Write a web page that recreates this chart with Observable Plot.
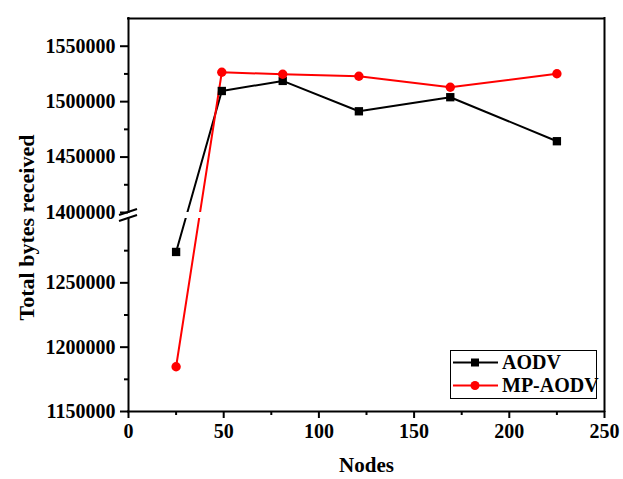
<!DOCTYPE html>
<html><head><meta charset="utf-8">
<script src="https://cdn.jsdelivr.net/npm/d3@7"></script>
<script src="https://cdn.jsdelivr.net/npm/@observablehq/plot@0.6"></script>
<style>html,body{margin:0;padding:0;background:#fff;}</style>
</head><body><div id="chart"></div>
<script>
const nodes = [25, 49, 81, 121, 169, 225];
const aodv = [1274000, 1509600, 1518700, 1491300, 1504000, 1464300];
const mpAodv = [1184800, 1526500, 1524700, 1522900, 1513000, 1525200];
const seriesNames = ["AODV", "MP-AODV"];
const seriesColors = ["#000000", "#ff0000"];
const seriesSymbols = ["square", "circle"];
const xTicks = [0, 50, 100, 150, 200, 250];
const xMinorTicks = [25, 75, 125, 175, 225];
const yTicks = [1150000, 1200000, 1250000, 1400000, 1450000, 1500000, 1550000];
const yMinorTicks = [1175000, 1225000, 1275000, 1425000, 1475000, 1525000];
const yBreak = [1300000, 1400000];
const yDomain = [1150000, 1575000];
const xDomain = [0, 250];

const rows = [];
[aodv, mpAodv].forEach((vals, i) => nodes.forEach((n, j) => rows.push({series: seriesNames[i], nodes: n, value: vals[j]})));

const W = 623, H = 479, mL = 128, mR = 19, mT = 18, mB = 68;
const FONT = "'Liberation Serif','Times New Roman',serif";

function breakMark(index, scales) {
  const g = d3.create("svg:g");
  const x0 = scales.x(xDomain[0]);
  [scales.y(yBreak[1]), scales.y(yBreak[0])].forEach(y => {
    g.append("line").attr("x1", x0 - 9).attr("y1", y + 3).attr("x2", x0 + 9).attr("y2", y - 3)
      .attr("stroke", "#000").attr("stroke-width", 2);
  });
  return g.node();
}

function legendMark(index, scales, values, dims) {
  const g = d3.create("svg:g");
  const right = dims.width - dims.marginRight, bottom = dims.height - dims.marginBottom;
  const bx = right - 154, by = bottom - 61, bw = 146, bh = 48;
  g.append("rect").attr("x", bx + 0.5).attr("y", by + 0.5).attr("width", bw).attr("height", bh)
    .attr("fill", "#fff").attr("stroke", "#000").attr("stroke-width", 1);
  seriesNames.forEach((name, i) => {
    const cy = by + 12.5 + i * 23;
    g.append("line").attr("x1", bx + 3).attr("x2", bx + 48).attr("y1", cy).attr("y2", cy)
      .attr("stroke", seriesColors[i]).attr("stroke-width", 2);
    const sym = seriesSymbols[i] === "square" ? d3.symbolSquare : d3.symbolCircle;
    g.append("path").attr("d", d3.symbol(sym, 64)()).attr("transform", `translate(${bx + 25},${cy})`)
      .attr("fill", seriesColors[i]);
    g.append("text").attr("x", bx + 52).attr("y", cy).attr("dy", "0.33em")
      .attr("text-anchor", "start")
      .attr("font-family", FONT).attr("font-weight", "bold").attr("font-size", 20)
      .attr("fill", "#000").text(name);
  });
  return g.node();
}

const chart = Plot.plot({
  width: W, height: H,
  marginLeft: mL, marginRight: mR, marginTop: mT, marginBottom: mB,
  style: {fontFamily: FONT, fontWeight: "bold", fontSize: "20px", color: "#000", background: "#fff", overflow: "visible"},
  x: {domain: xDomain, label: null},
  y: {type: "linear", domain: [yDomain[0], yBreak[0], yBreak[1], yDomain[1]], range: [H - mB, 218, 212, mT], label: null},
  color: {domain: seriesNames, range: seriesColors},
  symbol: {domain: seriesNames, range: seriesSymbols},
  marks: [
    Plot.line(rows, {x: "nodes", y: "value", z: "series", stroke: "series", strokeWidth: 2}),
    Plot.rect([{lo: yBreak[0], hi: yBreak[1]}], {x1: xDomain[0], x2: xDomain[1], y1: "lo", y2: "hi", fill: "#fff"}),
    Plot.dot(rows, {x: "nodes", y: "value", fill: "series", symbol: "series", r: 4.7, stroke: null}),
    Plot.ruleY([yDomain[0], yDomain[1]], {stroke: "#000", strokeWidth: 2, strokeLinecap: "square"}),
    Plot.ruleX([xDomain[1]], {stroke: "#000", strokeWidth: 2, strokeLinecap: "square"}),
    Plot.ruleX([{lo: yDomain[0], hi: yBreak[0]}, {lo: yBreak[1], hi: yDomain[1]}], {x: xDomain[0], y1: "lo", y2: "hi", stroke: "#000", strokeWidth: 2, strokeLinecap: "square"}),
    Plot.axisX({ticks: xTicks, tickSize: 7, tickPadding: 5, strokeWidth: 2, label: null, anchor: "bottom", fontSize: 20}),
    Plot.axisX({ticks: xMinorTicks, tickSize: 4, strokeWidth: 2, tickFormat: () => "", label: null, anchor: "bottom"}),
    Plot.axisY({ticks: yTicks, tickSize: 8, tickPadding: 5, strokeWidth: 2, tickFormat: d3.format("d"), label: null, anchor: "left", fontSize: 20}),
    Plot.axisY({ticks: yMinorTicks, tickSize: 4, strokeWidth: 2, tickFormat: () => "", label: null, anchor: "left"}),
    breakMark,
    Plot.text(["Nodes"], {text: d => d, frameAnchor: "bottom", textAnchor: "middle", dy: 60, fontSize: 21, fontWeight: "bold"}),
    Plot.text(["Total bytes received"], {text: d => d, frameAnchor: "left", textAnchor: "middle", rotate: -90, dx: -101.5, dy: 12.5, fontSize: 22, fontWeight: "bold"}),
    legendMark
  ]
});
document.getElementById("chart").appendChild(chart);
</script>
</body></html>
